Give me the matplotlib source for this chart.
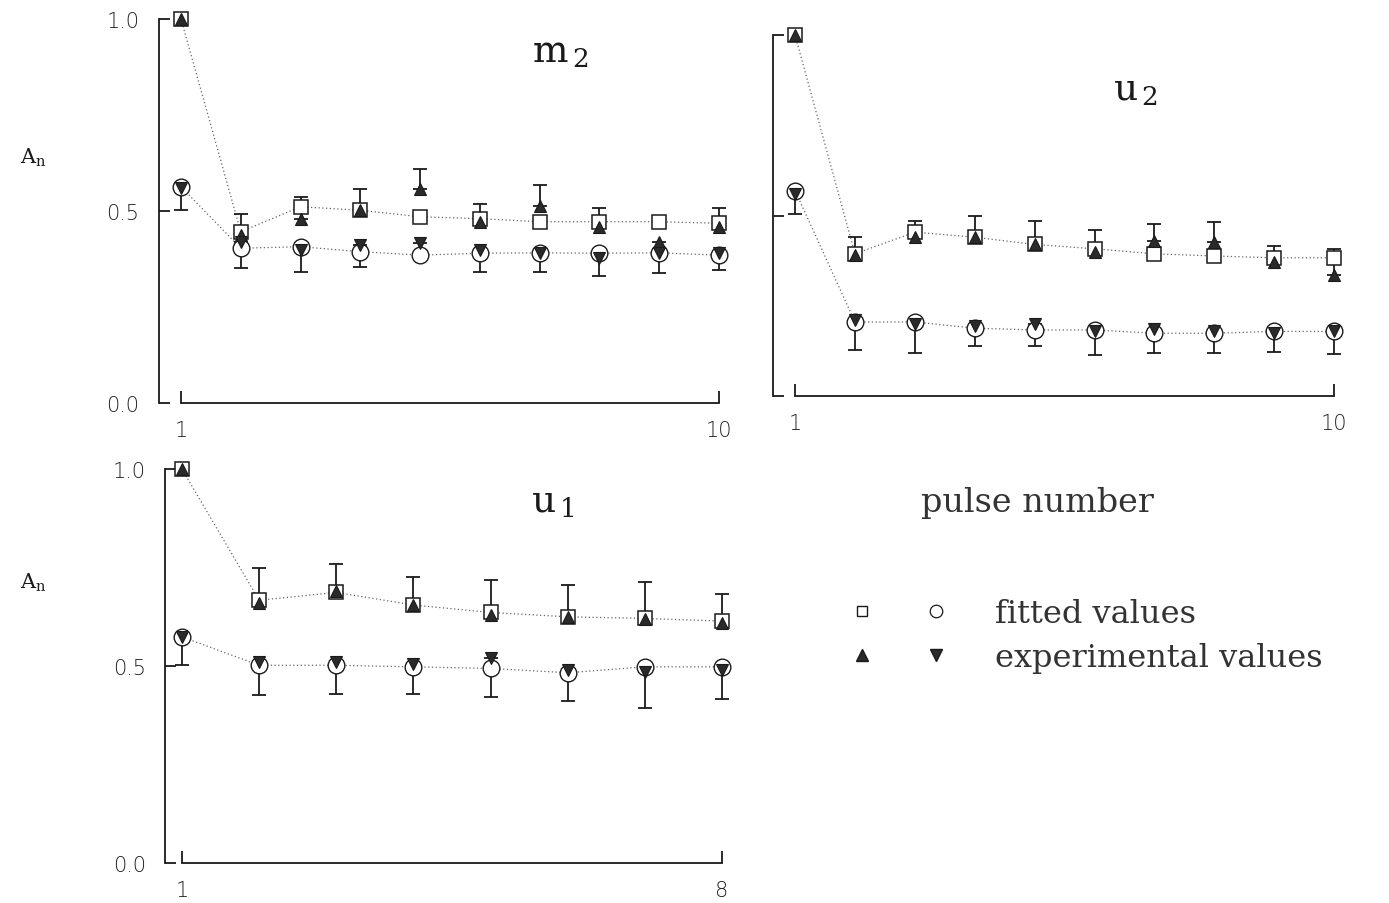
import numpy as np
import matplotlib
matplotlib.use('Agg')
import matplotlib.pyplot as plt
from matplotlib.lines import Line2D
from matplotlib.legend_handler import HandlerTuple

plt.rcParams['mathtext.fontset'] = 'dejavuserif'
nan = np.nan

# ---------------------------------------------------------
# DATA
# ---------------------------------------------------------
m2_pulse = [1, 2, 3, 4, 5, 6, 7, 8, 9, 10]
m2_fit_hi = [1.0, 0.446, 0.511, 0.502, 0.485, 0.480, 0.472, 0.472, 0.472, 0.468]
m2_exp_hi = [1.0, 0.437, 0.480, 0.502, 0.558, 0.472, 0.513, 0.459, 0.420, 0.459]
m2_err_hi = [nan, 0.492, 0.537, 0.558, 0.610, 0.519, 0.567, 0.509, nan, 0.509]
m2_fit_lo = [0.563, 0.403, 0.407, 0.394, 0.385, 0.390, 0.391, 0.390, 0.391, 0.385]
m2_exp_lo = [0.560, 0.420, 0.398, 0.411, 0.416, 0.398, 0.390, 0.377, 0.390, 0.390]
m2_err_lo = [0.502, 0.351, 0.342, 0.355, nan, 0.342, 0.342, 0.331, 0.339, 0.346]

u2_pulse = [1, 2, 3, 4, 5, 6, 7, 8, 9, 10]
u2_fit_hi = [1.0, 0.394, 0.454, 0.440, 0.420, 0.408, 0.394, 0.388, 0.383, 0.383]
u2_exp_hi = [1.0, 0.390, 0.440, 0.440, 0.420, 0.400, 0.430, 0.428, 0.370, 0.335]
u2_err_hi = [nan, 0.440, 0.486, 0.498, 0.486, 0.461, 0.477, 0.483, 0.417, 0.408]
u2_fit_lo = [0.569, 0.205, 0.205, 0.188, 0.183, 0.183, 0.174, 0.174, 0.179, 0.179]
u2_exp_lo = [0.560, 0.210, 0.200, 0.195, 0.199, 0.180, 0.185, 0.180, 0.175, 0.180]
u2_err_lo = [0.505, 0.128, 0.119, 0.140, 0.140, 0.113, 0.120, 0.120, 0.122, 0.117]

u1_pulse = [1, 2, 3, 4, 5, 6, 7, 8]
u1_fit_hi = [1.0, 0.667, 0.687, 0.655, 0.636, 0.625, 0.621, 0.614]
u1_exp_hi = [1.0, 0.660, 0.690, 0.655, 0.630, 0.625, 0.620, 0.610]
u1_err_hi = [nan, 0.748, 0.760, 0.727, 0.718, 0.705, 0.714, 0.684]
u1_fit_lo = [0.574, 0.502, 0.502, 0.498, 0.494, 0.483, 0.498, 0.498]
u1_exp_lo = [0.575, 0.510, 0.510, 0.505, 0.520, 0.490, 0.485, 0.490]
u1_err_lo = [0.502, 0.426, 0.428, 0.428, 0.422, 0.411, 0.394, 0.416]

y_ticks = [0.0, 0.5, 1.0]
y_ticklabels = ['0.0', '0.5', '1.0']

serif = 'DejaVu Serif'
sans = 'DejaVu Sans'
ink = '#1a1a1a'
label_col = '#333333'
tick_col = '#1f1f1f'


def draw_panel(ax, x, fit_hi, exp_hi, err_hi, fit_lo, exp_lo, err_lo,
               title, title_pos, ylabels=True, spine_offset=16):
    x = np.asarray(x)
    fit_hi, exp_hi, err_hi = map(np.asarray, (fit_hi, exp_hi, err_hi))
    fit_lo, exp_lo, err_lo = map(np.asarray, (fit_lo, exp_lo, err_lo))

    # dotted lines through the fitted values
    ax.plot(x, fit_hi, ls=(0, (1, 2)), color='#666666', lw=0.9, clip_on=False, zorder=1)
    ax.plot(x, fit_lo, ls=(0, (1, 2)), color='#666666', lw=0.9, clip_on=False, zorder=1)

    # error bars: up from the upper experimental series, down from the lower one
    up = np.vstack([np.zeros_like(exp_hi), err_hi - exp_hi])
    dn = np.vstack([exp_lo - err_lo, np.zeros_like(exp_lo)])
    for yv, ye in ((exp_hi, up), (exp_lo, dn)):
        eb = ax.errorbar(x, yv, yerr=ye, fmt='none', ecolor=ink, elinewidth=1.3,
                         capsize=5, capthick=1.3, zorder=2)
        for art in eb.lines[1] + eb.lines[2]:
            art.set_clip_on(False)

    # fitted values (open) and experimental values (filled)
    ax.plot(x, fit_hi, 's', ms=10, mfc='white', mec=ink, mew=1.1, ls='none', clip_on=False, zorder=3)
    ax.plot(x, fit_lo, 'o', ms=12, mfc='white', mec=ink, mew=1.0, ls='none', clip_on=False, zorder=3)
    ax.plot(x, exp_hi, '^', ms=9, mfc='#2a2a2a', mec=ink, mew=0.8, ls='none', clip_on=False, zorder=4)
    ax.plot(x, exp_lo, 'v', ms=9, mfc='#2a2a2a', mec=ink, mew=0.8, ls='none', clip_on=False, zorder=4)

    ax.set_xlim(x[0], x[-1])
    ax.set_ylim(0, 1)

    for side in ('top', 'right'):
        ax.spines[side].set_visible(False)
    ax.spines['left'].set_position(('outward', spine_offset))
    ax.spines['left'].set_bounds(0, 1)
    ax.spines['bottom'].set_bounds(x[0], x[-1])
    for side in ('left', 'bottom'):
        ax.spines[side].set_linewidth(1.3)
        ax.spines[side].set_color(ink)

    ax.set_xticks([x[0], x[-1]])
    ax.set_xticklabels([str(x[0]), str(x[-1])], fontsize=15, family=sans, fontweight='light')
    ax.tick_params(axis='x', direction='in', length=9, width=1.3, pad=12, colors=ink)
    ax.set_yticks(y_ticks)
    if ylabels:
        ax.set_yticklabels(y_ticklabels, fontsize=15, family=sans, fontweight='light')
    else:
        ax.set_yticklabels([])
    ax.tick_params(axis='y', direction='in', length=8, width=1.3, pad=14, colors=ink)
    for lab in ax.get_xticklabels() + ax.get_yticklabels():
        lab.set_color(tick_col)

    ax.text(title_pos[0], title_pos[1], title, transform=ax.transAxes,
            fontsize=27, family=serif, ha='center', va='center', color=ink)


fig = plt.figure(figsize=(13.89, 9.04), dpi=100)

ax_m2 = fig.add_axes([0.1303, 0.5531, 0.3873, 0.4248])
ax_u2 = fig.add_axes([0.5724, 0.5608, 0.3881, 0.3993])
ax_u1 = fig.add_axes([0.1310, 0.0442, 0.3888, 0.4358])

draw_panel(ax_m2, m2_pulse, m2_fit_hi, m2_exp_hi, m2_err_hi,
           m2_fit_lo, m2_exp_lo, m2_err_lo,
           r'$\mathrm{m}_{\,2}$', (0.705, 0.915), spine_offset=16)
draw_panel(ax_u2, u2_pulse, u2_fit_hi, u2_exp_hi, u2_err_hi,
           u2_fit_lo, u2_exp_lo, u2_err_lo,
           r'$\mathrm{u}_{\,2}$', (0.631, 0.85), ylabels=False, spine_offset=16)
draw_panel(ax_u1, u1_pulse, u1_fit_hi, u1_exp_hi, u1_err_hi,
           u1_fit_lo, u1_exp_lo, u1_err_lo,
           r'$\mathrm{u}_{\,1}$', (0.687, 0.918), spine_offset=12)

# y label and axis caption
fig.text(0.024, 1 - 158 / 904, r'$\mathrm{A}_\mathrm{n}$', fontsize=15, color=ink, ha='center', va='center')
fig.text(0.024, 1 - 583 / 904, r'$\mathrm{A}_\mathrm{n}$', fontsize=15, color=ink, ha='center', va='center')
fig.text(0.7466, 1 - 503 / 904, 'pulse number', fontsize=24, family=serif,
         color=label_col, ha='center', va='center')

# legend: two marker pairs
h_sq = Line2D([], [], marker='s', ms=7, mfc='white', mec=ink, mew=1.0, ls='none')
h_ci = Line2D([], [], marker='o', ms=9, mfc='white', mec=ink, mew=0.9, ls='none')
h_up = Line2D([], [], marker='^', ms=8, mfc='#2a2a2a', mec=ink, ls='none')
h_dn = Line2D([], [], marker='v', ms=8, mfc='#2a2a2a', mec=ink, ls='none')
leg = fig.legend([(h_sq, h_ci), (h_up, h_dn)], ['fitted values', 'experimental values'],
                 handler_map={tuple: HandlerTuple(ndivide=None, pad=0)},
                 loc='upper left', bbox_to_anchor=(825 / 1389, 1 - 599 / 904),
                 frameon=False, borderpad=0, borderaxespad=0, handlelength=4.63,
                 handletextpad=0.69, labelspacing=0.42,
                 prop={'family': serif, 'size': 23})
for t in leg.get_texts():
    t.set_color(label_col)

fig.savefig('out.png', dpi=100)
